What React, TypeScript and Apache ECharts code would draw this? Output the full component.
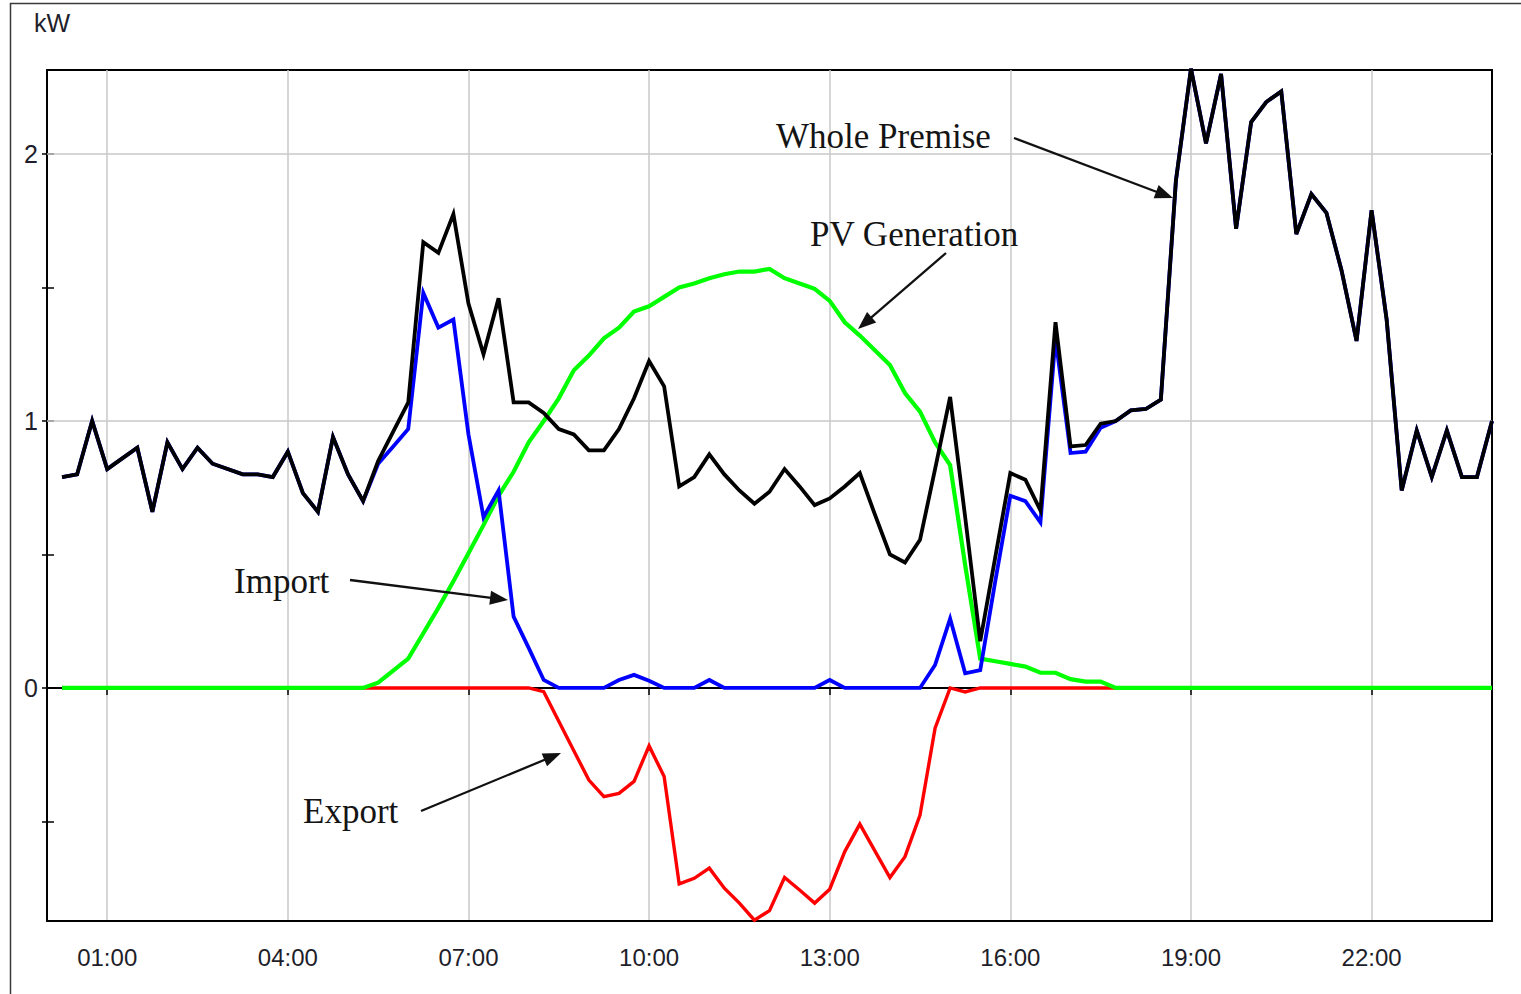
import React, { useEffect, useRef } from "react";
import * as echarts from "echarts";

// 15-minute slots: index 0 = 00:00 ... index 96 = 24:00
const timeSlots: string[] = [];
for (let i = 0; i <= 96; i++) {
  const h = Math.floor(i / 4);
  const m = (i % 4) * 15;
  timeSlots.push(`${String(h).padStart(2, "0")}:${String(m).padStart(2, "0")}`);
}

const tickLabelValues = [0, 1, 2];
const tickValues = [-0.5, 0, 0.5, 1, 1.5, 2];
const gridLineValues = [1, 2];

const wholePremise = [
  null,
  0.79, 0.8, 1.0, 0.82, 0.86, 0.9, 0.66, 0.92, 0.82, 0.9,
  0.84, 0.82, 0.8, 0.8, 0.79, 0.885, 0.73, 0.66, 0.94, 0.8,
  0.7, 0.85, 0.96, 1.07, 1.67, 1.63, 1.775, 1.44, 1.25, 1.46,
  1.07, 1.07, 1.03, 0.97, 0.95, 0.89, 0.89, 0.97, 1.085, 1.225,
  1.13, 0.755, 0.79, 0.875, 0.8, 0.74, 0.69, 0.735, 0.82, 0.755,
  0.685, 0.71, 0.755, 0.805, 0.65, 0.5, 0.47, 0.555, 0.82, 1.09,
  0.64, 0.175, 0.49, 0.805, 0.78, 0.665, 1.37, 0.905, 0.91, 0.99,
  1.0, 1.04, 1.045, 1.08, 1.9, 2.32, 2.04, 2.3, 1.72, 2.12,
  2.195, 2.235, 1.7, 1.85, 1.78, 1.565, 1.3, 1.79, 1.38, 0.74,
  0.965, 0.79, 0.965, 0.79, 0.79, 1.0,
];

const importKw = [
  null,
  0.79, 0.8, 1.0, 0.82, 0.86, 0.9, 0.66, 0.92, 0.82, 0.9,
  0.84, 0.82, 0.8, 0.8, 0.79, 0.885, 0.73, 0.66, 0.94, 0.8,
  0.7, 0.84, 0.905, 0.97, 1.48, 1.35, 1.38, 0.95, 0.64, 0.74,
  0.267, 0.15, 0.03, 0, 0, 0, 0, 0.03, 0.049, 0.027,
  0, 0, 0, 0.03, 0, 0, 0, 0, 0, 0,
  0, 0.03, 0, 0, 0, 0, 0, 0, 0.086, 0.26,
  0.055, 0.067, 0.4, 0.72, 0.7, 0.62, 1.31, 0.88, 0.885, 0.975,
  1.0, 1.04, 1.045, 1.08, 1.9, 2.32, 2.04, 2.3, 1.72, 2.12,
  2.195, 2.235, 1.7, 1.85, 1.78, 1.565, 1.3, 1.79, 1.38, 0.74,
  0.965, 0.79, 0.965, 0.79, 0.79, 1.0,
];

const pvGeneration = [
  null,
  0, 0, 0, 0, 0, 0, 0, 0, 0, 0,
  0, 0, 0, 0, 0, 0, 0, 0, 0, 0,
  0, 0.02, 0.065, 0.11, 0.205, 0.3, 0.4, 0.505, 0.61, 0.72,
  0.81, 0.92, 1.0, 1.085, 1.19, 1.245, 1.31, 1.35, 1.41, 1.43,
  1.465, 1.5, 1.515, 1.535, 1.55, 1.56, 1.56, 1.57, 1.535, 1.515,
  1.495, 1.45, 1.37, 1.32, 1.265, 1.21, 1.105, 1.035, 0.92, 0.835,
  0.46, 0.11, 0.1, 0.09, 0.08, 0.057, 0.057, 0.033, 0.024, 0.024,
  0, 0, 0, 0, 0, 0, 0, 0, 0, 0,
  0, 0, 0, 0, 0, 0, 0, 0, 0, 0,
  0, 0, 0, 0, 0, 0,
];

const exportKw = [
  null,
  0, 0, 0, 0, 0, 0, 0, 0, 0, 0,
  0, 0, 0, 0, 0, 0, 0, 0, 0, 0,
  0, 0, 0, 0, 0, 0, 0, 0, 0, 0,
  0, 0, -0.014, -0.125, -0.235, -0.345, -0.407, -0.395, -0.35, -0.217,
  -0.332, -0.734, -0.713, -0.675, -0.75, -0.806, -0.87, -0.834, -0.71, -0.757,
  -0.806, -0.754, -0.613, -0.51, -0.61, -0.71, -0.632, -0.476, -0.151, 0,
  -0.015, 0, 0, 0, 0, 0, 0, 0, 0, 0,
  0, 0, 0, 0, 0, 0, 0, 0, 0, 0,
  0, 0, 0, 0, 0, 0, 0, 0, 0, 0,
  0, 0, 0, 0, 0, 0,
];

const SANS = "'Liberation Sans', Arial, sans-serif";
const SERIF = "'Liberation Serif', 'Times New Roman', serif";

const isMajor = (i: number) => i % 12 === 4;

function arrow(sx: number, sy: number, tx: number, ty: number) {
  const dx = tx - sx;
  const dy = ty - sy;
  const L = Math.hypot(dx, dy);
  const ux = dx / L;
  const uy = dy / L;
  const hl = 18;
  const hw = 7;
  const bx = tx - ux * hl;
  const by = ty - uy * hl;
  return [
    {
      type: "line",
      shape: { x1: sx, y1: sy, x2: bx + ux * 3, y2: by + uy * 3 },
      style: { stroke: "#111", lineWidth: 2.3 },
      z: 50,
    },
    {
      type: "polygon",
      shape: {
        points: [
          [tx, ty],
          [bx - uy * hw, by + ux * hw],
          [bx + uy * hw, by - ux * hw],
        ],
      },
      style: { fill: "#111" },
      z: 50,
    },
  ];
}

function label(text: string, x: number, y: number) {
  return {
    type: "text",
    x,
    y,
    z: 50,
    style: {
      text,
      font: `35px ${SERIF}`,
      fill: "#141414",
      align: "left",
      verticalAlign: "middle",
    },
  };
}

export default function App() {
  const ref = useRef<HTMLDivElement>(null);

  useEffect(() => {
    if (!ref.current) return;
    const chart = echarts.init(ref.current, undefined, { renderer: "svg" });

    const lineSeries = (name: string, data: (number | null)[], color: string, width: number, z: number) => ({
      name,
      type: "line",
      data,
      xAxisIndex: 0,
      yAxisIndex: 0,
      showSymbol: false,
      symbol: "none",
      connectNulls: false,
      z,
      lineStyle: { color, width, join: "miter" },
      emphasis: { disabled: true },
    });

    const exportSeries: any = lineSeries("Export", exportKw, "#ff0000", 3.4, 3);
    exportSeries.markLine = {
      silent: true,
      symbol: ["none", "none"],
      label: { show: false },
      lineStyle: { color: "#c8c8c8", width: 1.5, type: "solid" },
      emphasis: { disabled: true },
      data: gridLineValues.map((v) => ({ yAxis: v })),
      z: 1,
    };

    const option: any = {
      animation: false,
      backgroundColor: "#ffffff",
      grid: {
        left: 47,
        top: 70,
        right: 29,
        bottom: 73,
        show: true,
        borderColor: "#000",
        borderWidth: 2,
        backgroundColor: "transparent",
      },
      xAxis: [
        {
          type: "category",
          data: timeSlots,
          boundaryGap: false,
          axisLine: { show: true, onZero: false, lineStyle: { color: "#000", width: 2 } },
          axisTick: { show: false },
          axisLabel: {
            interval: (i: number) => isMajor(i),
            fontSize: 24,
            fontFamily: SANS,
            color: "#1e1e2a",
            margin: 24,
          },
          splitLine: {
            show: true,
            interval: (i: number) => isMajor(i),
            lineStyle: { color: "#c8c8c8", width: 1.5 },
          },
        },
        {
          type: "category",
          data: timeSlots,
          boundaryGap: false,
          position: "bottom",
          axisLine: { show: true, onZero: true, lineStyle: { color: "#000", width: 2 } },
          axisTick: {
            show: true,
            interval: (i: number) => isMajor(i),
            length: 7,
            lineStyle: { color: "#000", width: 1.5 },
          },
          axisLabel: { show: false },
          splitLine: { show: false },
        },
      ],
      yAxis: [
        {
          type: "value",
          min: -0.873,
          max: 2.315,
          position: "left",
          axisLine: { show: false },
          axisTick: {
            show: true,
            customValues: tickValues,
            length: 5,
            lineStyle: { color: "#000", width: 1.5 },
          },
          axisLabel: {
            customValues: tickLabelValues,
            fontSize: 25,
            fontFamily: SANS,
            color: "#1e1e2a",
            margin: 9,
          },
          splitLine: { show: false },
        },
        {
          type: "value",
          min: -0.873,
          max: 2.315,
          position: "left",
          axisLine: { show: false },
          axisTick: {
            show: true,
            inside: true,
            customValues: tickValues,
            length: 7,
            lineStyle: { color: "#000", width: 1.5 },
          },
          axisLabel: { show: false },
          splitLine: { show: false },
        },
      ],
      series: [
        exportSeries,
        lineSeries("PV Generation", pvGeneration, "#00ff00", 4.2, 4),
        lineSeries("Import", importKw, "#0000ff", 3.8, 5),
        lineSeries("Whole Premise", wholePremise, "#000000", 3.8, 6),
      ],
      graphic: [
        {
          type: "rect",
          shape: { x: 10.5, y: 3.5, width: 1540, height: 1020 },
          style: { fill: "none", stroke: "#3a3a3a", lineWidth: 1.5 },
          silent: true,
        },
        {
          type: "text",
          x: 34,
          y: 23,
          style: { text: "kW", font: `25px ${SANS}`, fill: "#1e1e2a", align: "left", verticalAlign: "middle" },
        },
        label("Whole Premise", 776, 136),
        label("PV Generation", 810, 234),
        label("Import", 234, 581),
        label("Export", 303, 811),
        ...arrow(1014, 138, 1173, 198),
        ...arrow(946, 253, 858, 329),
        ...arrow(350, 580, 508, 600),
        ...arrow(421, 811, 561, 753),
      ],
    };

    chart.setOption(option);
    return () => chart.dispose();
  }, []);

  return (
    <div
      ref={ref}
      style={{ position: "fixed", left: 0, top: 0, width: 1521, height: 994, background: "#fff" }}
    />
  );
}
